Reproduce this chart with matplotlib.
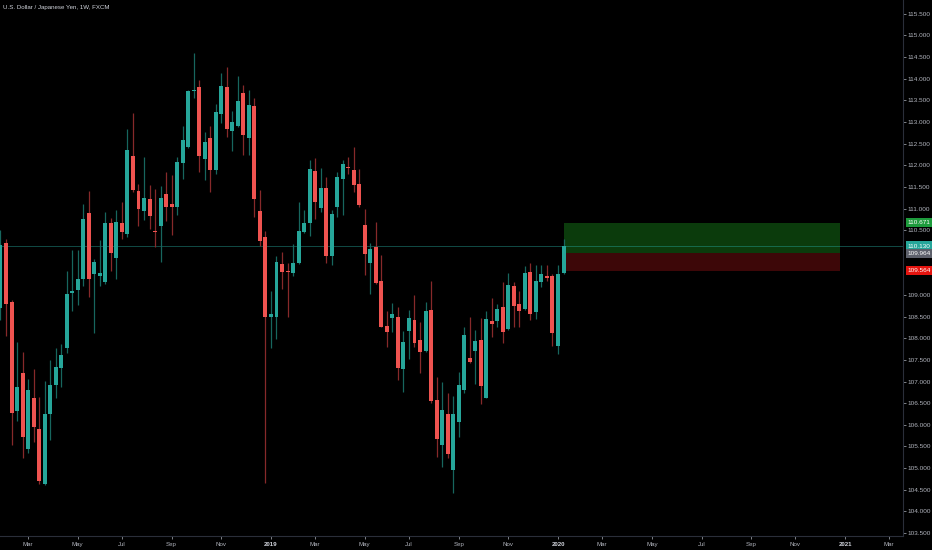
import numpy as np
import pandas as pd
import matplotlib
matplotlib.use('Agg')
import matplotlib.pyplot as plt

plt.rcParams['font.family'] = ['Liberation Sans', 'DejaVu Sans']

# Weekly USDJPY candles, first bar = week of 2018-01-29
START = '2018-01-29'
opens = [108.70, 110.20, 108.85, 106.32, 107.19, 105.43, 106.63, 105.90, 104.63, 106.24,
         106.92, 107.32, 107.77, 109.05, 109.12, 109.38, 110.89, 109.49, 109.45, 109.29,
         110.67, 109.85, 110.66, 110.41, 112.22, 111.41, 110.95, 111.23, 110.49, 110.60,
         111.34, 111.11, 111.04, 112.05, 112.42, 113.72, 113.80, 112.15, 112.62, 111.88,
         113.19, 113.81, 112.80, 112.91, 113.68, 112.62, 113.37, 110.95, 110.34, 108.49,
         108.50, 109.72, 109.56, 109.50, 109.74, 110.45, 110.66, 111.87, 111.01, 111.48,
         109.91, 111.03, 111.68, 111.97, 111.89, 111.57, 110.62, 109.75, 110.12, 109.33,
         108.29, 108.47, 108.49, 107.28, 108.18, 108.42, 107.96, 107.71, 108.66, 106.58,
         105.53, 106.25, 104.95, 106.06, 106.80, 107.55, 107.71, 107.97, 106.63, 108.39,
         108.40, 108.73, 108.22, 109.21, 108.79, 108.67, 109.53, 108.60, 109.29, 109.44,
         109.44, 107.83, 109.50]
highs = [110.50, 110.30, 108.89, 107.91, 107.68, 107.06, 107.29, 106.64, 107.01, 107.50,
         107.78, 107.87, 109.56, 110.04, 110.03, 111.11, 111.41, 109.84, 110.27, 110.92,
         110.79, 110.97, 111.15, 112.83, 113.20, 111.56, 112.18, 111.55, 111.45, 111.51,
         111.85, 111.78, 112.20, 112.91, 113.74, 114.59, 113.97, 112.76, 112.91, 113.42,
         114.13, 114.27, 113.26, 114.07, 113.86, 113.74, 113.55, 111.43, 110.48, 109.10,
         109.90, 110.00, 109.75, 110.18, 111.15, 110.97, 112.11, 112.16, 111.93, 111.72,
         110.97, 111.85, 112.12, 112.19, 112.43, 111.92, 110.98, 110.20, 110.68, 109.93,
         108.63, 108.81, 108.73, 108.17, 108.66, 109.00, 108.38, 108.85, 109.33, 107.10,
         106.98, 106.73, 106.67, 107.22, 108.26, 108.49, 108.19, 108.48, 108.63, 108.94,
         108.79, 109.30, 109.50, 109.31, 109.10, 109.68, 109.74, 109.70, 109.70, 109.70,
         109.49, 109.70, 110.30]
lows = [108.43, 108.06, 105.53, 106.09, 105.24, 105.34, 105.60, 104.63, 104.60, 105.65,
        106.61, 106.88, 107.65, 108.64, 108.76, 109.21, 108.95, 108.12, 109.21, 109.25,
        109.56, 109.37, 110.29, 110.35, 111.39, 110.60, 110.74, 110.52, 110.12, 109.77,
        110.70, 110.39, 110.85, 111.68, 112.40, 113.55, 111.84, 111.65, 111.39, 111.79,
        112.97, 112.66, 112.32, 112.88, 112.24, 112.24, 110.81, 110.14, 104.65, 107.77,
        107.98, 109.13, 108.49, 109.44, 109.72, 110.43, 110.37, 110.76, 110.91, 109.75,
        109.70, 110.81, 110.85, 111.79, 111.38, 111.04, 109.47, 109.03, 109.25, 108.25,
        107.81, 108.15, 107.04, 106.77, 107.52, 107.79, 107.19, 107.69, 106.50, 105.26,
        105.03, 105.23, 104.42, 105.71, 106.74, 107.43, 106.95, 106.48, 106.61, 108.04,
        108.25, 107.89, 108.20, 108.25, 108.27, 108.65, 108.42, 108.44, 109.18, 109.33,
        107.83, 107.64, 109.48]
closes = [110.16, 108.79, 106.27, 106.87, 105.71, 106.81, 105.94, 104.69, 106.25, 106.91,
          107.34, 107.62, 109.03, 109.09, 109.37, 110.75, 109.37, 109.76, 109.52, 110.66,
          109.98, 110.69, 110.45, 112.36, 111.43, 110.98, 111.25, 110.83, 110.45, 111.25,
          111.04, 111.04, 112.08, 112.59, 113.72, 113.74, 112.22, 112.54, 111.89, 113.23,
          113.84, 112.83, 112.99, 113.48, 112.71, 113.40, 111.22, 110.26, 108.50, 108.56,
          109.77, 109.54, 109.53, 109.74, 110.48, 110.66, 111.92, 111.16, 111.48, 109.91,
          110.87, 111.72, 112.03, 111.93, 111.55, 111.08, 109.94, 110.07, 109.27, 108.27,
          108.15, 108.57, 107.31, 107.92, 108.46, 107.89, 107.68, 108.63, 106.55, 105.67,
          106.34, 105.33, 106.25, 106.91, 108.07, 107.45, 107.94, 106.90, 108.44, 108.33,
          108.68, 108.15, 109.23, 108.75, 108.63, 109.50, 108.56, 109.33, 109.49, 109.40,
          108.12, 109.49, 110.14]

# long position drawing
entry, target, stop = 109.964, 110.671, 109.564
pos_bars = (102, 152)
last_price = 110.130

price_ticks = np.arange(103.5, 115.51, 0.5)
hidden_ticks = [110.0, 109.5]   # covered by the tags

UP, DOWN = '#26a69a', '#ef5350'
UP_WICK, DOWN_WICK = '#17665e', '#87292a'
BG = '#000000'
TXT = '#b2b5be'
LINE = '#2a2e39'

o = np.array(opens); h = np.array(highs); l = np.array(lows); c = np.array(closes)
idx = np.arange(len(o))
up = c >= o

fig = plt.figure(figsize=(9.32, 5.5), dpi=100, facecolor=BG)
ax = fig.add_axes([0, 14 / 550, 903 / 932, 536 / 550], facecolor=BG)

# position boxes
ax.fill_between(pos_bars, entry, target, color='#0b3b0c', lw=0, zorder=1)
ax.fill_between(pos_bars, stop, entry, color='#3d0708', lw=0, zorder=1)

# last price line
ax.axhline(last_price, color=UP, alpha=0.45, lw=0.7, zorder=1)

# candles
ax.vlines(idx[up], l[up], h[up], color=UP_WICK, lw=0.9, zorder=2)
ax.vlines(idx[~up], l[~up], h[~up], color=DOWN_WICK, lw=0.9, zorder=2)
body = np.maximum(np.abs(c - o), 0.03)
bottom = np.minimum(o, c)
ax.bar(idx[up], body[up], bottom=bottom[up], width=0.72, color=UP, lw=0, zorder=3)
ax.bar(idx[~up], body[~up], bottom=bottom[~up], width=0.72, color=DOWN, lw=0, zorder=3)

ax.set_xlim(-0.09, 163.5)
ax.set_ylim(103.43, 115.82)

# price scale
for s in ['top', 'left']:
    ax.spines[s].set_visible(False)
ax.spines['right'].set_color(LINE)
ax.spines['bottom'].set_color(LINE)
ax.yaxis.tick_right()
yt = [t for t in price_ticks if round(t, 1) not in hidden_ticks]
ax.set_yticks(yt, ['%.3f' % t for t in yt])
ax.tick_params(axis='y', colors=TXT, labelsize=4.6, length=2, width=0.5, pad=1.5)
for t in ax.get_yticklines():
    t.set_color(LINE)

# time scale: label every second month, year at January
dates = pd.date_range(START, periods=170, freq='7D')
tick_pos, tick_lab, tick_year = [], [], []
for i in range(1, len(dates)):
    d, p = dates[i], dates[i - 1]
    if d.month != p.month and d.month % 2 == 1:
        tick_pos.append(i)
        tick_lab.append(str(d.year) if d.month == 1 else d.strftime('%b'))
        tick_year.append(d.month == 1)
ax.set_xticks(tick_pos, tick_lab)
ax.tick_params(axis='x', colors=TXT, labelsize=4.4, length=2, width=0.5, pad=2)
for lab, yr in zip(ax.get_xticklabels(), tick_year):
    if yr:
        lab.set_color('#d1d4dc')
        lab.set_fontweight('bold')
for t in ax.get_xticklines():
    t.set_color(LINE)

# price tags on the scale
tags = [(target, '#1d9b3c'), (last_price, UP), (entry, '#5d606b'), (stop, '#e5140f')]
for val, col in tags:
    ax.annotate('%.3f' % val, xy=(1.0, val), xycoords=('axes fraction', 'data'),
                xytext=(3.5, 0), textcoords='offset points', ha='left', va='center',
                fontsize=4.6, color='white',
                bbox=dict(boxstyle='square,pad=0.35', fc=col, ec='none'),
                annotation_clip=False)

fig.text(3 / 932, 1 - 7 / 550, 'U.S. Dollar / Japanese Yen, 1W, FXCM',
         color='#d1d4dc', fontsize=4.4, va='center', ha='left')

fig.savefig('out.png', dpi=100, facecolor=BG)
